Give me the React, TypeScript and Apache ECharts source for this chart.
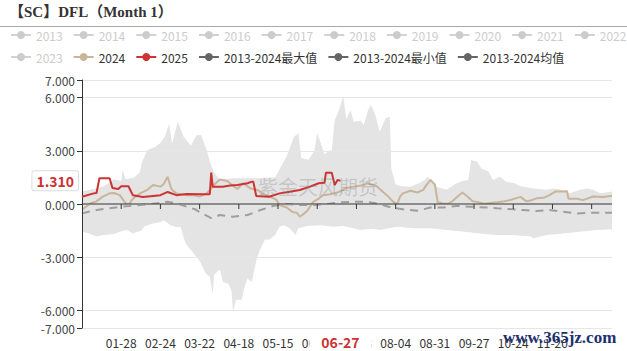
import React, { useEffect, useRef } from "react";
import * as echarts from "echarts";

// ---------- categories (calendar days of a leap year, MM-DD) ----------
const MONTH_DAYS = [31, 29, 31, 30, 31, 30, 31, 31, 30, 31, 30, 31];
const CATEGORIES: string[] = [];
MONTH_DAYS.forEach((n, m) => {
  for (let d = 1; d <= n; d++) {
    CATEGORIES.push(`${String(m + 1).padStart(2, "0")}-${String(d).padStart(2, "0")}`);
  }
});

const HIDDEN_YEARS = ["2013", "2014", "2015", "2016", "2017", "2018", "2019", "2020", "2021", "2022", "2023"];
const NAME_2024 = "2024";
const NAME_2025 = "2025";
const NAME_MAX = "2013-2024最大值";
const NAME_MIN = "2013-2024最小值";
const NAME_MEAN = "2013-2024均值";

const LAST_DATE = "06-27";
const LAST_VALUE = 1.31;

const Y_MIN = -7;
const Y_MAX = 7;

// ---------- series values ----------
const S2025: [string, number][] = [
  ["01-01", 0.41], ["01-09", 0.6], ["01-11", 0.62], ["01-13", 1.45], ["01-20", 1.45], ["01-22", 0.9],
  ["01-26", 0.85], ["01-28", 1.0], ["02-02", 1.0], ["02-05", 0.5], ["02-12", 0.4], ["02-24", 0.5],
  ["02-29", 0.68], ["03-06", 0.5], ["03-13", 0.56], ["03-24", 0.55], ["03-29", 0.55], ["03-30", 1.77],
  ["03-31", 0.98], ["04-07", 0.98], ["04-12", 1.05], ["04-17", 1.07], ["04-24", 1.17], ["04-27", 1.26],
  ["04-28", 1.25], ["04-30", 0.45], ["05-09", 0.41], ["05-16", 0.6], ["05-23", 0.69], ["05-30", 0.79],
  ["06-06", 0.98], ["06-12", 1.17], ["06-16", 1.2], ["06-17", 1.77], ["06-21", 1.77], ["06-23", 1.07],
  ["06-25", 1.36], ["06-27", 1.31],
];

const S2024: [string, number][] = [
  ["01-01", -0.32], ["01-07", 0.04], ["01-11", 0.15], ["01-15", 0.4], ["01-20", 0.6], ["01-23", 0.62],
  ["01-27", 0.5], ["01-31", 0.05], ["02-02", -0.06], ["02-05", 0.3], ["02-10", 0.6], ["02-15", 0.8],
  ["02-19", 1.07], ["02-24", 0.98], ["02-26", 1.1], ["02-29", 1.54], ["03-02", 0.98], ["03-03", 0.8],
  ["03-06", 0.6], ["03-13", 0.5], ["03-17", 0.5], ["03-22", 0.42], ["03-27", 0.6], ["03-31", 0.98],
  ["04-02", 1.17], ["04-05", 1.38], ["04-10", 1.3], ["04-12", 1.17], ["04-17", 0.85], ["04-21", 1.17],
  ["04-26", 0.88], ["05-01", 0.79], ["05-04", 0.6], ["05-07", 0.5], ["05-12", 0.32], ["05-14", 0.23],
  ["05-16", -0.06], ["05-21", -0.2], ["05-25", -0.45], ["05-28", -0.5], ["05-30", -0.72], ["06-01", -0.6],
  ["06-04", -0.4], ["06-08", 0.1], ["06-12", 0.3], ["06-15", 0.5], ["06-20", 0.55], ["06-27", 0.7],
  ["06-30", 0.88], ["07-06", 0.98], ["07-13", 1.07], ["07-15", 1.17], ["07-22", 1.0], ["07-24", 0.85],
  ["07-29", 0.5], ["08-02", 0.15], ["08-05", -0.02], ["08-07", 0.42], ["08-09", 0.6], ["08-14", 0.75],
  ["08-19", 0.65], ["08-23", 0.8], ["08-25", 1.05], ["08-28", 1.36], ["08-31", 1.1], ["09-02", 0.1],
  ["09-06", 0.02], ["09-09", 0.02], ["09-12", 0.15], ["09-16", 0.45], ["09-19", 0.65], ["09-22", 0.45],
  ["09-26", 0.15], ["09-29", 0.12], ["10-04", 0.02], ["10-13", 0.1], ["10-18", 0.15], ["10-22", 0.23],
  ["10-29", 0.4], ["11-02", 0.15], ["11-05", 0.2], ["11-09", 0.32], ["11-14", 0.35], ["11-18", 0.5],
  ["11-22", 0.7], ["11-25", 0.7], ["11-30", 0.72], ["12-01", 0.3], ["12-07", 0.3], ["12-11", 0.22],
  ["12-18", 0.42], ["12-25", 0.4], ["12-30", 0.45], ["12-31", 0.45],
];

const MEAN_VALUES: [string, number][] = [
  ["01-01", -0.53], ["01-11", -0.34], ["01-20", -0.24], ["01-29", -0.15], ["02-10", -0.06], ["02-22", 0.04],
  ["02-29", 0.13], ["03-06", 0.04], ["03-13", -0.15], ["03-19", -0.3], ["03-22", -0.45], ["03-30", -0.8],
  ["04-05", -0.62], ["04-14", -0.72], ["04-24", -0.62], ["05-03", -0.34], ["05-12", -0.1], ["05-21", 0.0],
  ["05-30", -0.06], ["06-08", -0.06], ["06-18", 0.0], ["06-27", 0.1], ["07-06", 0.12], ["07-15", 0.13],
  ["07-24", 0.0], ["08-01", -0.2], ["08-09", -0.3], ["08-19", -0.38], ["08-28", -0.2], ["09-06", -0.2],
  ["09-15", -0.11], ["09-24", -0.15], ["10-06", -0.2], ["10-13", -0.24], ["10-24", -0.3], ["10-31", -0.34],
  ["11-09", -0.4], ["11-18", -0.34], ["11-27", -0.43], ["12-07", -0.53], ["12-16", -0.5], ["12-28", -0.5],
  ["12-31", -0.5],
];

const MAX_VALUES: [string, number][] = [
  ["01-01", 0.7], ["01-09", 0.85], ["01-16", 1.0], ["01-23", 1.4], ["01-28", 1.3], ["01-29", 1.95],
  ["01-31", 1.4], ["02-06", 1.5], ["02-10", 1.8], ["02-11", 2.3], ["02-15", 3.05], ["02-20", 3.2],
  ["02-24", 3.45], ["02-27", 3.8], ["03-01", 4.55], ["03-03", 3.4], ["03-07", 4.65], ["03-11", 3.8],
  ["03-16", 3.3], ["03-20", 3.9], ["03-23", 3.9], ["03-27", 3.0], ["03-29", 2.4], ["04-01", 1.75],
  ["04-05", 1.4], ["04-15", 1.45], ["04-30", 1.45], ["05-13", 1.5], ["05-17", 2.1], ["05-21", 2.7],
  ["05-26", 3.8], ["05-29", 4.0], ["05-31", 2.6], ["06-05", 2.5], ["06-09", 3.0], ["06-11", 4.0],
  ["06-14", 3.3], ["06-16", 2.8], ["06-19", 3.0], ["06-21", 3.0], ["06-23", 4.7], ["06-26", 5.3],
  ["06-29", 6.1], ["07-01", 4.8], ["07-04", 5.3], ["07-06", 4.65], ["07-11", 4.7], ["07-13", 4.46],
  ["07-16", 5.3], ["07-18", 5.59], ["07-21", 5.02], ["07-24", 4.08], ["07-28", 4.83], ["07-31", 4.93],
  ["08-01", 2.0], ["08-04", 1.1], ["08-08", 1.0], ["08-14", 0.98], ["08-20", 1.17], ["08-24", 1.36],
  ["08-26", 1.55], ["08-29", 1.25], ["09-01", 0.98], ["09-08", 0.8], ["09-15", 1.17], ["09-19", 1.3],
  ["09-23", 1.36], ["09-25", 2.48], ["09-29", 2.4], ["10-02", 2.0], ["10-07", 1.83], ["10-10", 1.36],
  ["10-15", 1.54], ["10-19", 1.25], ["10-25", 1.17], ["10-29", 1.0], ["11-07", 0.88], ["11-16", 0.8],
  ["11-21", 0.88], ["11-26", 0.8], ["12-02", 0.6], ["12-09", 0.8], ["12-14", 0.88], ["12-18", 0.8],
  ["12-23", 0.6], ["12-31", 0.7],
];

const MIN_VALUES: [string, number][] = [
  ["01-01", -1.56], ["01-06", -1.66], ["01-11", -1.84], ["01-16", -1.75], ["01-23", -1.7], ["01-27", -1.56],
  ["02-01", -1.47], ["02-05", -1.66], ["02-11", -1.5], ["02-13", -1.25], ["02-19", -1.1], ["02-25", -1.0],
  ["02-26", -0.9], ["03-02", -1.2], ["03-06", -1.3], ["03-09", -1.3], ["03-11", -1.9], ["03-13", -2.3],
  ["03-18", -2.8], ["03-22", -3.2], ["03-26", -3.9], ["03-29", -4.1], ["03-31", -5.1], ["04-01", -4.0],
  ["04-05", -3.7], ["04-07", -4.4], ["04-11", -4.5], ["04-13", -4.95], ["04-14", -6.1], ["04-16", -5.4],
  ["04-20", -5.4], ["04-22", -4.67], ["04-24", -4.2], ["04-27", -4.4], ["04-30", -3.2], ["05-02", -2.7],
  ["05-06", -2.0], ["05-09", -2.0], ["05-13", -1.75], ["05-16", -1.28], ["05-19", -1.2], ["05-23", -1.37],
  ["05-27", -1.75], ["05-29", -1.37], ["06-04", -1.24], ["06-13", -1.2], ["06-22", -1.28], ["06-29", -1.24],
  ["07-06", -1.37], ["07-10", -1.47], ["07-19", -1.4], ["07-24", -1.47], ["08-05", -1.28], ["08-16", -1.37],
  ["08-28", -1.37], ["09-08", -1.47], ["09-19", -1.55], ["10-01", -1.66], ["10-12", -1.75], ["10-24", -1.75],
  ["11-05", -1.84], ["11-07", -1.94], ["11-16", -1.75], ["11-27", -1.66], ["12-09", -1.56], ["12-20", -1.47],
  ["12-31", -1.43],
];

// ---------- styles ----------
const FONT = "'Noto Sans CJK SC', 'Microsoft YaHei', sans-serif";
const C_2024 = "#c9b59c";
const C_2025 = "#cc3333";
const C_DARK = "#666666";
const C_AREA = "#e4e4e4";
const C_AXIS = "#333333";

const LABEL_EVERY = 27;
const LAST_LABEL_INDEX = 330;

export default function App() {
  const ref = useRef<HTMLDivElement>(null);

  useEffect(() => {
    document.body.style.margin = "0";
    if (!ref.current) return;
    const chart = echarts.init(ref.current, undefined, { renderer: "svg" });

    const selected: Record<string, boolean> = {};
    HIDDEN_YEARS.forEach((y) => (selected[y] = false));

    const hiddenSeries = HIDDEN_YEARS.map((y) => ({
      name: y,
      type: "line",
      data: [] as any[],
      symbol: "circle",
      showSymbol: false,
    }));

    const legendData: any[] = [
      ...HIDDEN_YEARS.map((y) => ({ name: y })),
      { name: NAME_2024 },
      { name: NAME_2025 },
      { name: NAME_MAX, itemStyle: { color: C_DARK, opacity: 1 }, lineStyle: { color: C_DARK, width: 2, opacity: 1 } },
      { name: NAME_MIN, itemStyle: { color: C_DARK, opacity: 1 }, lineStyle: { color: C_DARK, width: 2, opacity: 1 } },
      { name: NAME_MEAN, itemStyle: { color: C_DARK }, lineStyle: { color: C_DARK, width: 2, type: "solid" } },
    ];

    const labelInterval = (i: number) => i > 0 && i % LABEL_EVERY === 0 && i <= LAST_LABEL_INDEX;
    const tickCategories = CATEGORIES.filter((_, i) => i > 0 && i % LABEL_EVERY === 0);

    // zero-line axis with downward ticks, drawn through the chart's own scales
    const zeroAxisSeries = {
      type: "custom",
      name: "zeroAxis",
      silent: true,
      z: 10,
      clip: false,
      data: [[CATEGORIES[0], 0], ...tickCategories.map((c) => [c, 0])],
      renderItem: (params: any, api: any) => {
        const p = api.coord([api.value(0), 0]);
        if (params.dataIndex === 0) {
          const end = api.coord([CATEGORIES.length - 1, 0]);
          return {
            type: "line",
            shape: { x1: p[0], y1: p[1], x2: end[0], y2: end[1] },
            style: { stroke: C_AXIS, lineWidth: 1 },
          };
        }
        return {
          type: "line",
          shape: { x1: p[0], y1: p[1], x2: p[0], y2: p[1] + 5 },
          style: { stroke: C_AXIS, lineWidth: 1 },
        };
      },
    };

    chart.setOption({
      animation: false,
      textStyle: { fontFamily: FONT },
      title: {
        text: "【SC】DFL（Month 1）",
        left: 9,
        top: 4,
        padding: 0,
        textStyle: { fontSize: 15, fontWeight: "bold", color: "#333", fontFamily: "'Liberation Serif', 'Noto Sans CJK SC', serif" },
      },
      legend: {
        left: 10,
        right: 4,
        top: 29,
        padding: 0,
        itemWidth: 20,
        itemHeight: 10,
        itemGap: 10,
        inactiveColor: "#ccc",
        textStyle: { fontSize: 12, color: "#333", fontFamily: FONT },
        data: legendData,
        selected,
      },
      grid: { left: 82, right: 15, top: 80, bottom: 23 },
      xAxis: {
        type: "category",
        data: CATEGORIES,
        boundaryGap: false,
        position: "bottom",
        axisLine: { show: false, onZero: false },
        axisTick: { show: false },
        axisLabel: { interval: labelInterval, color: "#333", fontSize: 12, margin: 8 },
        splitLine: { show: false },
      },
      yAxis: {
        type: "value",
        min: Y_MIN,
        max: Y_MAX,
        z: 10,
        axisLine: { show: true, lineStyle: { color: C_AXIS } },
        axisTick: { show: true, length: 5, lineStyle: { color: C_AXIS } },
        axisLabel: { color: "#444", fontSize: 12, margin: 7, formatter: (v: number) => v.toFixed(3) },
        splitLine: { show: true, lineStyle: { color: "#e6e6e6" } },
      },
      graphic: [
        { type: "line", shape: { x1: 0, y1: 26.5, x2: 627, y2: 26.5 }, style: { stroke: "#aaa", lineWidth: 1 }, silent: true },
        {
          type: "text",
          left: 258,
          top: 176,
          z: 50,
          silent: true,
          style: { text: "紫金天风期货", font: `20px ${FONT}`, fill: "rgba(120,120,120,0.28)" },
        },
        {
          type: "text",
          left: 503,
          top: 329,
          z: 100,
          silent: true,
          style: { text: "www.365jz.com", font: "bold 17px 'Liberation Serif', serif", fill: "#1d3170" },
        },
      ],
      series: [
        ...hiddenSeries,
        {
          name: NAME_MAX,
          type: "line",
          data: MAX_VALUES,
          symbol: "circle",
          showSymbol: false,
          itemStyle: { color: C_DARK },
          lineStyle: { width: 0, opacity: 0 },
          areaStyle: { color: C_AREA, opacity: 1 },
          z: 1,
        },
        {
          name: NAME_MIN,
          type: "line",
          data: MIN_VALUES,
          symbol: "circle",
          showSymbol: false,
          itemStyle: { color: C_DARK },
          lineStyle: { width: 0, opacity: 0 },
          areaStyle: { color: C_AREA, opacity: 1 },
          z: 1,
        },
        {
          name: NAME_MEAN,
          type: "line",
          data: MEAN_VALUES,
          symbol: "circle",
          showSymbol: false,
          itemStyle: { color: C_DARK },
          lineStyle: { color: "#9e9e9e", width: 2, type: [8, 6] },
          z: 3,
        },
        {
          name: NAME_2024,
          type: "line",
          data: S2024,
          symbol: "circle",
          showSymbol: false,
          itemStyle: { color: C_2024 },
          lineStyle: { color: C_2024, width: 2 },
          z: 4,
        },
        zeroAxisSeries,
        {
          name: NAME_2025,
          type: "line",
          data: S2025,
          symbol: "circle",
          showSymbol: false,
          itemStyle: { color: C_2025 },
          lineStyle: { color: C_2025, width: 2 },
          z: 12,
          markLine: {
            silent: true,
            symbol: "none",
            animation: false,
            z: 20,
            lineStyle: { color: "rgba(0,0,0,0)", width: 0, type: "solid" },
            data: [
              {
                yAxis: LAST_VALUE,
                label: {
                  show: true,
                  position: "start",
                  distance: 4,
                  formatter: () => LAST_VALUE.toFixed(3),
                  color: C_2025,
                  fontWeight: "bold",
                  fontSize: 14,
                  backgroundColor: "#fff",
                  borderColor: "#ddd",
                  borderWidth: 1,
                  borderRadius: 2,
                  padding: [3, 4, 2, 4],
                },
              },
              {
                xAxis: LAST_DATE,
                label: {
                  show: true,
                  position: "start",
                  distance: 6,
                  formatter: () => LAST_DATE,
                  color: C_2025,
                  fontWeight: "bold",
                  fontSize: 14,
                  backgroundColor: "#fff",
                  padding: [1, 12],
                },
              },
            ],
          },
        },
      ],
    });

    return () => chart.dispose();
  }, []);

  return <div ref={ref} style={{ position: "absolute", left: 0, top: 0, width: 627, height: 351 }} />;
}
